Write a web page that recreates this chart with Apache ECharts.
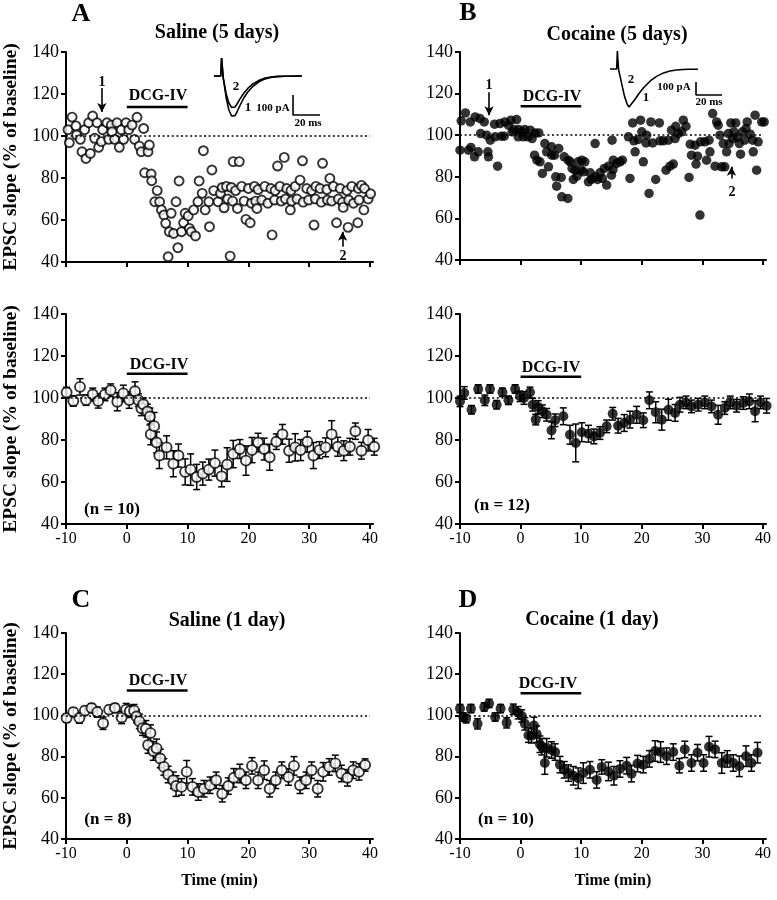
<!DOCTYPE html>
<html><head><meta charset="utf-8">
<script src="https://cdn.jsdelivr.net/npm/echarts@6/dist/echarts.min.js"></script>
<style>html,body{margin:0;padding:0;background:#fff}#c{width:777px;height:900px}</style>
</head><body><div id="c"></div>
<script>
// ---------- DATA ----------
const xTicks = [-10, 0, 10, 20, 30, 40];
const drugWindow = [0, 10];           // DCG-IV application (min)
const baseline = 100;

// Panel A (top): Saline 5 days, single-cell raw points [time, % baseline]
const salineRaw5d = [
[-9.67,103],[-9.45,96.8],[-9.0,109],[-8.36,104.8],[-8.25,100.5],[-7.64,98.4],[-7.37,92.5],[-6.93,103],[-6.71,89.3],[-6.27,106.3],
[-6.0,91.7],[-5.61,109.5],[-5.29,98.9],[-4.9,106.3],[-4.63,94.6],[-4.19,97.3],[-3.97,103],[-3.26,106.3],[-2.98,98.4],[-2.54,105.2],
[-2.43,102],[-2.0,98.4],[-1.61,106.3],[-1.23,94.6],[-0.9,103],[-0.52,98.4],[-0.13,106.3],[0.31,103],[0.86,105.2],[1.29,98.4],
[1.68,108.9],[2.06,95.2],[2.39,92.5],[2.77,103.6],[3.49,92.5],[3.71,95.7],
[2.94,82.5],[4.0,81.9],[4.1,78.7],[4.6,68.7],[5.0,74],[5.4,68.7],[5.7,64.8],[6.1,62.4],[6.4,58.4],[6.8,42.5],
[7.0,54.4],[7.3,63.2],[7.7,53.6],[8.1,68.7],[8.4,46.8],[8.6,78.6],[9.0,54.4],[9.35,58.7],[9.6,63.2],[10.1,61.9],
[10.3,56],[10.6,54.4],[11.0,64.8],[11.3,52.4],[11.7,68.7],[11.9,78.6],[12.4,72.7],[12.6,93],[12.9,64.8],[13.5,68.7],
[13.6,56.8],[14.0,83.8],[14.3,74],[15.0,68.7],[15.4,72.7],[15.7,75.5],
[16.0,65.8],[16.4,76],[16.6,70],[17.0,42.8],[17.2,75.5],[17.4,69],[17.5,87.8],[17.9,74],[18.2,65.5],[18.5,87.8],
[18.9,76],[19.3,69],[19.6,60.3],[20.0,75],[20.3,58.7],[20.5,68],[21.0,76],[21.2,69],[21.4,65.5],[21.6,74.5],
[22.2,69.5],[22.7,76],[23.2,68],[23.7,75],[23.9,52.9],[24.3,69.5],[24.4,74],[24.8,85.7],[25.2,76],[25.4,69],
[25.9,89.8],[26.1,70],[26.3,75],[26.9,64.8],[27.0,74],[27.1,69],[27.7,76],[28.0,70],[28.5,79],[28.9,88.2],
[29.0,68.5],[29.6,75],[29.9,69.5],[30.4,74],[30.8,57.6],[31.0,70],[31.1,76],[31.8,75],[32.0,68.5],[32.2,87],
[32.9,74.5],[33.0,69.5],[33.4,79.8],[33.7,69],[34.0,76],[34.5,58.7],[34.8,70],[35.1,75],[35.5,68.5],[35.6,66],
[36.2,74],[36.4,56.5],[36.5,69.5],[37.0,76],[37.3,68],[38.0,58.7],[38.1,75],[38.2,69.5],[38.6,76.5],[39.0,64.8],
[39.1,75],[39.7,70],[40.1,72.5]
];

// Panel B (top): Cocaine 5 days, single-cell raw points
const cocaineRaw5d = [
[-10.0,92.8],[-9.8,106.9],[-9.1,110.7],[-8.6,92.8],[-8.3,106.4],[-8.2,94.1],[-7.6,89.6],[-7.5,108.8],[-7.0,92],[-6.7,108],
[-6.6,100.8],[-6.0,106.4],[-5.6,100],[-5.4,92],[-5.3,89.6],[-5.0,97.6],[-4.3,105.3],[-4.2,99.2],[-3.8,85.1],[-3.4,105.6],
[-3.2,99.5],[-2.7,99.5],[-2.6,106.4],[-2.0,104.8],[-1.6,107.2],[-1.4,101.6],[-1.1,102.7],[-0.65,107.5],[-0.4,99.2],[-0.3,102.7],
[0.2,101.6],[0.45,99.2],[0.7,102.7],[1.2,99.2],[1.6,102.4],[1.9,98.4],[2.3,90.4],[2.4,101.1],[2.7,88],[3.0,101.1],
[3.2,87.2],[3.6,81.6],[4.0,96],[4.3,92],[4.6,84.8],[5.1,94.4],[5.15,90.4],[5.6,90.4],[5.8,80],[5.95,75.5],
[6.3,93.6],[6.7,79.7],[6.8,70.4],[7.2,89.6],[7.8,69.6],[7.85,88],[8.2,87.2],[8.5,84],[8.7,78.7],[9.0,83.2],
[9.3,80.3],[9.5,87.2],[10.0,83.2],[10.1,88],[10.4,82.4],[10.6,87.2],[11.2,77.6],[11.5,81.9],[11.7,78.7],[12.3,96],
[12.35,80],[12.7,78.7],[13.1,81.9],[13.5,79.2],[13.8,84],[14.2,76],[14.5,85.1],[15.0,80.8],[15.1,97.6],[15.3,88],
[15.25,83.5],[15.85,86.4],[16.4,87.2],[16.8,88],[17.8,99.2],[18.05,79.2],[18.5,105.9],[18.7,97.3],[18.9,92],[19.4,97.9],
[19.8,107.2],[20.0,101.6],[20.25,87.2],[20.7,96.3],[20.8,100],[21.2,72],[21.5,106.4],[21.8,96.3],[22.3,78.7],[22.9,105.9],
[23.0,97.3],[23.55,97.3],[24.0,83.2],[24.4,97.6],[24.65,85.1],[24.9,102.4],[25.2,86.1],[25.5,98.4],[25.6,104.3],[26.0,100.8],
[26.6,101.6],[26.85,107.2],[27.3,104.3],[27.8,79.7],[28.0,95.7],[28.2,90.4],[28.8,95.2],[28.95,86.1],[29.2,89.9],[29.6,61.6],
[29.7,96.8],[30.4,96.8],[30.7,88],[31.1,97.6],[31.25,92],[31.7,110.4],[32.1,85.1],[32.35,106.4],[32.6,104.8],[32.9,100],
[33.2,84.8],[33.45,96],[33.7,84.8],[34.0,92],[34.3,100.8],[34.4,96],[34.7,105.9],[35.0,98.4],[35.2,101.6],[35.5,105.9],
[35.75,98.9],[36.1,96],[36.3,90.9],[36.6,101.6],[37.0,97.6],[37.2,103.2],[37.4,106.4],[37.9,100.5],[38.3,97.6],[38.4,92],
[38.7,109.6],[38.95,83.2],[39.2,96.8],[39.8,106.4],[40.2,106.4]
];

// Panel A (middle): Saline 5 days, mean +/- SEM (n = 10)
const tSal5 = [-9.9,-8.8,-7.7,-6.7,-5.6,-4.7,-3.6,-2.65,-1.56,-0.57,0.4,1.35,1.9,2.4,2.7,3.4,3.8,3.95,4.5,4.9,5.35,6.55,7.65,8.5,9.6,10.5,11.5,12.5,13.5,14.5,15.6,16.5,17.5,18.6,19.6,20.6,21.6,22.6,23.5,24.6,25.6,26.7,27.7,28.6,29.7,30.7,31.7,32.7,33.7,34.7,35.7,36.7,37.6,38.6,39.7,40.7];
const mSal5 = [102.6,98.6,105.3,99,101.7,98.6,101.7,103.7,98.2,102.2,99,103.2,99,95.1,97,93.6,91.2,82.7,86.6,78.8,72.6,76.5,68.7,72.6,64.8,65.9,62.4,64,65.9,69,62.7,68.3,73.3,75.7,70.2,75.2,78.8,75.7,71.8,79.2,82.7,74.9,76.5,75.2,79.2,72.6,75.2,76.5,82.7,76.8,74.9,76.8,84.2,74.9,79.9,76.8];
const sSal5 = [2.5,2.5,3.9,2.5,3,3.4,3,3,4.3,3.9,3.9,4.5,3,3.5,3,3.5,4,5,6.5,5,6.2,5.5,6.2,5.5,6.2,7.5,6,5.5,5,6.2,5,8,6.5,4.5,7,6,4.4,5.2,6.2,3.7,4.7,5.5,6.5,5,5,6.2,4,4.5,6.5,4.5,4.7,4,3.9,4,5.1,4];

// Panel B (middle): Cocaine 5 days, mean +/- SEM (n = 12)
const tCoc5 = [-10,-9.3,-8.1,-7,-5.9,-5.05,-3.95,-3.0,-2.0,-0.9,-0.1,0.56,1.55,2.0,2.5,2.9,3.6,4.3,5.1,5.7,7.05,8.15,9.1,10.1,11.2,12.1,13.1,14.2,15.2,16.1,17.1,18.05,19.15,20.25,21.25,22.3,23.3,24.4,25.5,26.3,27.3,28.2,29.3,30.4,31.5,32.6,33.7,34.6,35.65,36.75,37.75,38.7,39.6,40.6];
const mCoc5 = [98.4,102.4,94.4,104.3,98.9,104.3,96.8,102.7,98.9,104.3,100.8,100,102.7,96.8,89.7,95.7,93.7,92,84.6,89.4,91.3,82.5,78.6,83.7,83,81.7,83.3,86.5,92.5,86.8,88.1,89.7,92,89.4,98.9,93.2,89.7,94.4,92.9,96.8,97.9,96,96.8,97.9,96,92,95.2,97.9,96.3,97.6,98.4,93.7,97.9,96.3];
const sCoc5 = [2.5,3,2,2,2.5,2,2,2,2,2,2.5,3,2.5,3,2.5,3,3,3,4,3,4,4.5,9,4.5,4,3.5,3,3,3,3.5,4,4,4,3.5,4,5,5,5,4,3.5,3,3,3,3,3,4.5,3,3,3,3,3.5,5,3,3.5];

// Panel C: Saline 1 day, mean +/- SEM (n = 8)
const tSal1 = [-9.9,-8.8,-7.8,-6.9,-5.8,-4.85,-3.9,-2.9,-1.95,-0.85,-0.1,0.5,1.2,1.6,2.06,2.6,3.15,3.5,3.9,4.36,4.9,5.5,6.1,6.8,7.65,8.1,9.0,9.85,10.8,11.76,12.7,13.7,14.7,15.7,16.7,17.6,18.6,19.6,20.6,21.6,22.6,23.5,24.5,25.5,26.6,27.5,28.5,29.5,30.4,31.4,32.3,33.3,34.3,35.3,36.3,37.25,38.2,39.2];
const mSal1 = [98.7,101.6,98.7,102.3,103.6,101.6,96.2,102.8,103.6,99,102.8,102,102.3,99.5,97.1,93.8,93.5,85.6,91.4,82.7,84,79.1,75,71.3,68.5,65.7,65.3,72.6,65.3,62.8,64.4,66.1,68.5,62,65.7,69.7,71.8,68.5,75.5,68.5,73.4,64.4,68.5,73.4,70.1,75.5,66.1,68.5,73.4,64.4,72.6,75,76.7,71.8,69.7,73.4,72.6,75.9];
const sSal1 = [2,2,2.5,2,2,2.5,3,2,2,3,3,3,3,3,3.5,3.5,4,4,4,4.5,4.5,4.5,4,4,4,5,4,5.5,4,4,4,4,4,4,4,4.5,4.5,4,4,4,4.5,4,4,4,4,4.5,4,4,4,4,4.5,4,4,4,4,4,4,3];

// Panel D: Cocaine 1 day, mean +/- SEM (n = 10)
const tCoc1 = [-10,-9.45,-9.0,-8.2,-7.1,-6.0,-5.2,-4.2,-3.3,-2.3,-1.2,-0.4,0.2,0.7,1.3,1.8,2.2,2.65,3.2,3.5,4.0,4.3,5.1,5.7,6.5,7.2,7.9,8.7,9.5,10.35,11.45,12.55,13.4,14.5,15.4,16.4,17.5,18.3,19.3,20.25,21.25,22.2,23.1,24.1,25.2,26.2,27.1,28.2,29.2,30.2,31.1,32.1,33.2,34.1,35.1,36.1,37.2,38.1,39.1];
const mCoc1 = [103.3,99.2,98.4,103.3,95.9,104.1,105.8,99.2,103.3,96.4,103,101.3,99.7,95.9,90.4,90.1,95.1,90.9,86,84.8,76.9,84.3,83.2,82.2,76.1,73.6,72,70.7,69.5,72,73.6,68.7,75,72.8,70.7,74,75.6,71.7,76.6,76.1,78.9,82.7,82.2,80.2,82.2,75.6,83.5,76.9,81.9,76.9,84.8,83.5,76.9,78.9,76.9,75.3,80.2,76.9,81.9];
const sCoc1 = [2,2,2,2,2.5,2,2,2,2,2.5,2.5,3,3,3,3.5,3.5,4,4,4,4,5.5,4.5,4,4,4,4,4,4.5,5,5,4,4,3.5,4.5,4.5,4,4,4,4,4,4,5,5,4,4,3.5,4,4,4,4,5,4,5,4,4,5,5,4,5];

// Example EPSC traces (ms, pA) for insets
const traceSalMs  = [3,8,8.6,9.2,9.8,10.5,12,14,16,17,18.5,20,22,25,28,32,36,40,45,50,55,68];
const traceSal1pA = [0,0,90,40,-10,-40,-110,-170,-200,-205,-198,-180,-150,-110,-80,-50,-30,-16,-7,-3,-1,0];
const traceSal2pA = [0,0,90,40,-10,-35,-90,-135,-157,-160,-155,-140,-117,-86,-62,-38,-23,-12,-5,-2,-1,0];
const scaleSal = [[61.5,-95],[61.5,-195],[81.5,-195]];   // 100 pA / 20 ms
const traceCocMs = [3.8,9,9.5,10,10.5,11,13,15,17,18.5,20,23,26,30,35,40,45,50,55,60,65,71.5];
const traceCocpA = [0,0,138,60,-10,-30,-120,-210,-270,-292,-280,-235,-190,-140,-90,-55,-30,-15,-8,-4,-2,-2];
const scaleCoc = [[70,-100],[70,-200],[90,-200]];         // 100 pA / 20 ms

// Arrows marking example-trace time points: [time, tailValue, headValue]
const arrowsSal = [[-4.1,122.9,111.4],[35.5,47.3,54.4]];
const arrowsCoc = [[-5.2,120.6,109.6],[34.8,79.2,84.8]];

// ---------- LAYOUT / STYLE ----------
const FF = '"Liberation Serif","Times New Roman",serif';
const grids = [
  {left:66, top:52, width:307, height:210},   // A top
  {left:460, top:52, width:306, height:208},  // B top
  {left:66, top:314, width:307, height:210},  // A mid
  {left:460, top:314, width:306, height:210}, // B mid
  {left:66, top:633, width:307, height:206},  // C
  {left:460, top:633, width:306, height:206}, // D
  {left:210, top:50, width:120, height:75},   // inset A
  {left:605, top:45, width:125, height:70}    // inset B
].map(g => Object.assign({outerBoundsMode:'none', containLabel:false}, g));

const xAxes = [], yAxes = [];
for (let i = 0; i < 6; i++) {
  xAxes.push({
    type:'value', gridIndex:i, min:-10, max:40.5,
    axisLine:{show:true, onZero:false, lineStyle:{color:'#000', width:2}},
    axisTick:{show:true, customValues:xTicks, length:5, lineStyle:{color:'#000', width:2}},
    axisLabel:{show:i>=2, customValues:xTicks, fontSize:16, fontFamily:FF, color:'#000', margin:7},
    splitLine:{show:false},
    name: i>=4 ? 'Time (min)' : '', nameLocation:'middle', nameGap:34,
    nameTextStyle:{fontSize:16, fontWeight:'bold', fontFamily:FF, color:'#000'}
  });
  yAxes.push({
    type:'value', gridIndex:i, min:40, max:140, interval:20,
    axisLine:{show:true, onZero:false, lineStyle:{color:'#000', width:2}},
    axisTick:{show:true, length:5, lineStyle:{color:'#000', width:2}},
    axisLabel:{fontSize:18, fontFamily:FF, color:'#000', margin:7},
    splitLine:{show:false},
    name: (i%2===0) ? 'EPSC slope (% of baseline)' : '', nameLocation:'middle', nameGap:45,
    nameTextStyle:{fontSize:19.5, fontWeight:'bold', fontFamily:FF, color:'#000'}
  });
}
// inset axes (hidden)
xAxes.push({type:'value', gridIndex:6, min:0, max:88.89, show:false});
yAxes.push({type:'value', gridIndex:6, min:-245, max:130, show:false});
xAxes.push({type:'value', gridIndex:7, min:0, max:96.15, show:false});
yAxes.push({type:'value', gridIndex:7, min:-353.8, max:184.6, show:false});

const drugLevel = [113.8, 113.9, 111.5, 110.1, 112.1, 110.7];

const series = [];
function addBaselineAndDrug(i) {
  series.push({
    type:'line', xAxisIndex:i, yAxisIndex:i, symbol:'none', silent:true, z:1,
    data: drugWindow.map(t => [t, drugLevel[i]]),
    lineStyle:{color:'#000', width:2.5},
    markLine:{silent:true, symbol:'none', label:{show:false},
      lineStyle:{color:'#000', width:1.6, type:[2,2.6]},
      data:[[{coord:[-10, baseline]}, {coord:[40, baseline]}]]}
  });
}
function zip2(t, v) { return t.map((x, k) => [x, v[k]]); }
function errData(t, m, s) { return t.map((x, k) => [x, m[k]-s[k], m[k]+s[k]]); }
function renderErr(params, api) {
  const x = api.value(0), a = api.coord([x, api.value(1)]), b = api.coord([x, api.value(2)]);
  const w = 3.5, st = {stroke:'#000', lineWidth:1.5};
  return {type:'group', children:[
    {type:'line', shape:{x1:a[0], y1:a[1], x2:b[0], y2:b[1]}, style:st},
    {type:'line', shape:{x1:a[0]-w, y1:a[1], x2:a[0]+w, y2:a[1]}, style:st},
    {type:'line', shape:{x1:b[0]-w, y1:b[1], x2:b[0]+w, y2:b[1]}, style:st}
  ]};
}
const openStyle = {color:'#fff', borderColor:'#000', borderWidth:1.9};
const fillStyle = {color:'#000', borderColor:'#000', borderWidth:0};
function arrowMark(list) {
  return {silent:true, label:{show:false}, symbolSize:[7,9],
    lineStyle:{color:'#000', width:1.6, type:'solid'},
    data: list.map(a => [{coord:[a[0], a[1]], symbol:'none'}, {coord:[a[0], a[2]], symbol:'arrow'}])};
}

for (let i = 0; i < 6; i++) addBaselineAndDrug(i);

series.push({type:'scatter', xAxisIndex:0, yAxisIndex:0, data:salineRaw5d, symbolSize:9, itemStyle:openStyle, clip:false, z:3, markLine:arrowMark(arrowsSal)});
series.push({type:'scatter', xAxisIndex:1, yAxisIndex:1, data:cocaineRaw5d, symbolSize:9.5, itemStyle:fillStyle, clip:false, z:3, markLine:arrowMark(arrowsCoc)});

const meanSets = [[2, tSal5, mSal5, sSal5, openStyle], [3, tCoc5, mCoc5, sCoc5, fillStyle], [4, tSal1, mSal1, sSal1, openStyle], [5, tCoc1, mCoc1, sCoc1, fillStyle]];
meanSets.forEach(([i, t, m, s, st]) => {
  series.push({type:'custom', xAxisIndex:i, yAxisIndex:i, data:errData(t, m, s), renderItem:renderErr, clip:false, z:2, silent:true, encode:{x:0, y:[1,2]}});
  series.push({type:'scatter', xAxisIndex:i, yAxisIndex:i, data:zip2(t, m), symbolSize:10, itemStyle:st, clip:false, z:3});
});

// insets
const traceStyle = {color:'#000', width:1.6};
series.push({type:'line', xAxisIndex:6, yAxisIndex:6, data:zip2(traceSalMs, traceSal1pA), symbol:'none', lineStyle:traceStyle, silent:true});
series.push({type:'line', xAxisIndex:6, yAxisIndex:6, data:zip2(traceSalMs, traceSal2pA), symbol:'none', lineStyle:traceStyle, silent:true});
series.push({type:'line', xAxisIndex:6, yAxisIndex:6, data:scaleSal, symbol:'none', lineStyle:{color:'#000', width:1.6}, silent:true});
series.push({type:'line', xAxisIndex:7, yAxisIndex:7, data:zip2(traceCocMs, traceCocpA), symbol:'none', lineStyle:traceStyle, silent:true});
series.push({type:'line', xAxisIndex:7, yAxisIndex:7, data:scaleCoc, symbol:'none', lineStyle:{color:'#000', width:1.6}, silent:true});

// annotation texts: [text, x, y, size]
const texts = [
  ['A', 81, 14, 26], ['B', 468, 13, 26], ['C', 81, 600, 26], ['D', 468, 600, 26],
  ['Saline (5 days)', 217, 33, 20], ['Cocaine (5 days)', 617, 35, 20],
  ['Saline (1 day)', 227, 621, 20], ['Cocaine (1 day)', 592, 620, 20],
  ['DCG-IV', 158, 96, 16], ['DCG-IV', 552, 97, 16], ['DCG-IV', 159, 365, 16],
  ['DCG-IV', 551, 368, 16], ['DCG-IV', 158, 681, 16], ['DCG-IV', 548, 684, 16],
  ['(n = 10)', 112, 510, 17], ['(n = 12)', 502, 506, 17], ['(n = 8)', 108, 820, 17], ['(n = 10)', 506, 820, 17],
  ['1', 102, 82, 14], ['2', 343, 256, 14], ['1', 489, 85, 14], ['2', 732, 192, 14],
  ['2', 236, 87, 13], ['1', 248, 108, 13], ['100 pA', 273, 108, 11], ['20 ms', 308, 123, 11],
  ['2', 631, 80, 13], ['1', 646, 98, 13], ['100 pA', 674, 87, 11], ['20 ms', 709, 102, 11]
];
const graphic = texts.map(([t, x, y, s]) => ({
  type:'text', x:x, y:y, silent:true,
  style:{text:t, fontSize:s, fontWeight:'bold', fontFamily:FF, fill:'#000',
         align:'center', verticalAlign:'middle', textAlign:'center', textVerticalAlign:'middle'}
}));

const chart = echarts.init(document.getElementById('c'), null, {renderer:'canvas'});
chart.setOption({
  animation:false, backgroundColor:'#fff',
  grid:grids, xAxis:xAxes, yAxis:yAxes, series:series, graphic:graphic
});
</script></body></html>
